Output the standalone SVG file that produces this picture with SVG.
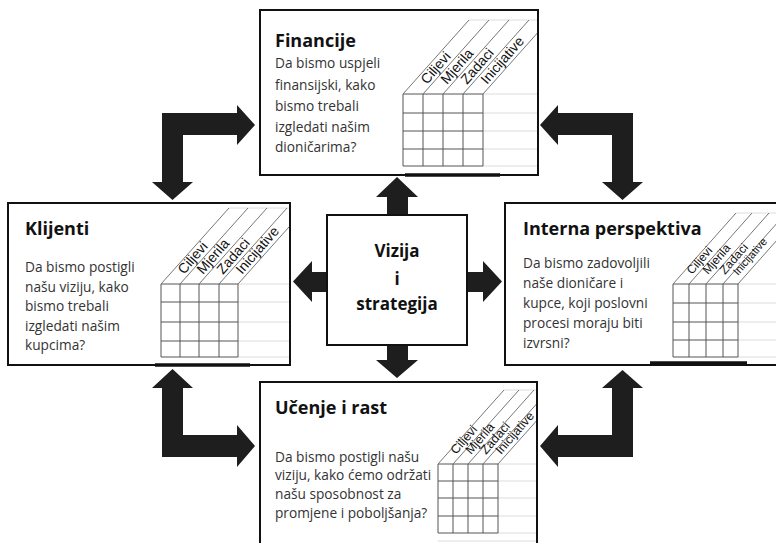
<svg xmlns="http://www.w3.org/2000/svg" width="776" height="543" viewBox="0 0 776 543">
<style>
.box{fill:#fff;stroke:#111;stroke-width:2}
.title{font-family:"Open Sans","Noto Sans","DejaVu Sans",sans-serif;font-weight:bold;font-size:18px;fill:#111}
.body{font-family:"Open Sans","Noto Sans","DejaVu Sans",sans-serif;font-size:13.7px;fill:#333}
.ctr{font-family:"Open Sans","Noto Sans","DejaVu Sans",sans-serif;font-weight:bold;font-size:17px;fill:#111}
.g{stroke:#555;stroke-width:1;fill:none}
.gl{stroke:#dcdcdc;stroke-width:1;fill:none}
.gd{stroke:#777;stroke-width:1;fill:none}
.lbl{font-family:"Liberation Sans",Arial,sans-serif;font-size:14px;fill:#111}
.arr{fill:#1e1e1e}
.thick{stroke:#111;stroke-width:3.5}
</style>
<defs>
<clipPath id="cF"><rect x="261" y="11" width="276" height="163"/></clipPath>
<clipPath id="cK"><rect x="9" y="204" width="280" height="160"/></clipPath>
<clipPath id="cI"><rect x="506" y="204" width="270" height="160"/></clipPath>
<clipPath id="cU"><rect x="261" y="383" width="275" height="160"/></clipPath>
</defs>

<g id="financije">
<rect class="box" x="260" y="10" width="278" height="165"/>
<g clip-path="url(#cF)">
<path class="gl" d="M483 94H537M483 113H537M483 131H537M483 149H537M483 166H537M469 20H537"/>
<path class="g" d="M403 94H483M403 113H483M403 131H483M403 149H483M403 166H483M403 94V166M423 94V166M443 94V166M463 94V166M483 94V166"/>
<path class="gd" d="M403 94L469 20M423 94L489 20M443 94L509 20M463 94L529 20M483 94L549 20"/>
<g class="lbl">
<text transform="translate(427,85) rotate(-49)">Ciljevi</text>
<text transform="translate(447,85) rotate(-49)">Mjerila</text>
<text transform="translate(467,85) rotate(-49)">Zadaci</text>
<text transform="translate(487,85) rotate(-49)">Inicijative</text>
</g>
</g>
<line class="thick" x1="405" y1="175" x2="500" y2="175"/>
<text class="title" x="275" y="47">Financije</text>
<text class="body" x="275" y="68">Da bismo uspjeli</text>
<text class="body" x="275" y="90">finansijski, kako</text>
<text class="body" x="275" y="111">bismo trebali</text>
<text class="body" x="275" y="132">izgledati našim</text>
<text class="body" x="275" y="152">dioničarima?</text>
</g>

<g id="klijenti">
<rect class="box" x="8" y="203" width="282" height="162"/>
<g clip-path="url(#cK)">
<path class="gl" d="M238 284H289M238 302H289M238 322H289M238 341H289M238 357H289M229 208H289"/>
<path class="g" d="M161 284H238M161 302H238M161 322H238M161 341H238M161 357H238M161 284V357M180 284V357M199 284V357M219 284V357M238 284V357"/>
<path class="gd" d="M161 284L229 208M180 284L248 208M199 284L267 208M219 284L287 208M238 284L306 208"/>
<g class="lbl">
<text transform="translate(184,275) rotate(-49)">Ciljevi</text>
<text transform="translate(203,275) rotate(-49)">Mjerila</text>
<text transform="translate(223,275) rotate(-49)">Zadaci</text>
<text transform="translate(242,275) rotate(-49)">Inicijative</text>
</g>
</g>
<line class="thick" x1="155" y1="365" x2="250" y2="365"/>
<text class="title" x="25" y="235">Klijenti</text>
<text class="body" x="25" y="272">Da bismo postigli</text>
<text class="body" x="25" y="291.5">našu viziju, kako</text>
<text class="body" x="25" y="311">bismo trebali</text>
<text class="body" x="25" y="330.5">izgledati našim</text>
<text class="body" x="25" y="350">kupcima?</text>
</g>

<g id="interna">
<rect class="box" x="505" y="203" width="290" height="162"/>
<g clip-path="url(#cI)">
<path class="gl" d="M738 284H776M738 303H776M738 322H776M738 340H776M738 357H776M736 213H776"/>
<path class="g" d="M673 284H738M673 303H738M673 322H738M673 340H738M673 357H738M673 284V357M689 284V357M706 284V357M723 284V357M738 284V357"/>
<path class="gd" d="M673 284L736 213M689 284L752 213M706 284L769 213M723 284L786 213M738 284L801 213"/>
</g>
<g class="lbl" style="font-size:12px">
<text transform="translate(692,275) rotate(-49)">Ciljevi</text>
<text transform="translate(708,275) rotate(-49)">Mjerila</text>
<text transform="translate(725,275) rotate(-49)">Zadaci</text>
<text transform="translate(738,276) rotate(-49)" style="font-size:11px">Inicijative</text>
</g>
<line class="thick" x1="650" y1="363" x2="747" y2="363"/>
<text class="title" x="523" y="235">Interna perspektiva</text>
<text class="body" x="523" y="268">Da bismo zadovoljili</text>
<text class="body" x="523" y="288">naše dioničare i</text>
<text class="body" x="523" y="308">kupce, koji poslovni</text>
<text class="body" x="523" y="328">procesi moraju biti</text>
<text class="body" x="523" y="348">izvrsni?</text>
</g>

<g id="ucenje">
<rect class="box" x="260" y="382" width="277" height="175"/>
<g clip-path="url(#cU)">
<path class="gl" d="M498 464H536M498 481H536M498 498H536M498 516H536M498 533H536M504 390H536M438 541H536"/>
<path class="g" d="M438 464H498M438 481H498M438 498H498M438 516H498M438 533H498M438 464V533M453 464V533M468 464V533M483 464V533M498 464V533"/>
<path class="gd" d="M438 464L504 390M453 464L519 390M468 464L534 390M483 464L549 390M498 464L564 390"/>
<g class="lbl" style="font-size:12.5px">
<text transform="translate(456,455) rotate(-49)">Ciljevi</text>
<text transform="translate(471,455) rotate(-49)">Mjerila</text>
<text transform="translate(486,455) rotate(-49)">Zadaci</text>
<text transform="translate(501,455) rotate(-49)">Inicijative</text>
</g>
</g>
<text class="title" x="275" y="414">Učenje i rast</text>
<text class="body" x="275" y="462">Da bismo postigli našu</text>
<text class="body" x="275" y="480">viziju, kako ćemo održati</text>
<text class="body" x="275" y="499">našu sposobnost za</text>
<text class="body" x="275" y="518">promjene i poboljšanja?</text>
</g>

<g id="connectors">
<polygon class="arr" points="255,125 237,105 237,113 162,113 162,182 152,182 172.5,200 193,182 183,182 183,135 237,135 237,145"/>
<polygon class="arr" points="540,125 558,105 558,113 633,113 633,182 643,182 622.5,200 602,182 612,182 612,135 558,135 558,145"/>
<polygon class="arr" points="172.5,369 193,388 183,388 183,435 237,435 237,425 255,446 237,467 237,457 162,457 162,388 152,388"/>
<polygon class="arr" points="622.5,370 643,388 633,388 633,457 558,457 558,467 540,446 558,425 558,435 612,435 612,388 602,388"/>
<polygon class="arr" points="397,177 418,197 408,197 408,360 418,360 397,378 376,360 387,360 387,197 376,197"/>
<polygon class="arr" points="293,281.5 312,261 312,272 483,272 483,261 502,281.5 483,302 483,292 312,292 312,302"/>
</g>

<g id="vizija">
<rect class="box" x="327" y="215" width="140" height="130"/>
<text class="ctr" x="397" y="257" text-anchor="middle">Vizija</text>
<text class="ctr" x="397" y="285" text-anchor="middle">i</text>
<text class="ctr" x="397" y="310" text-anchor="middle">strategija</text>
</g>
</svg>
